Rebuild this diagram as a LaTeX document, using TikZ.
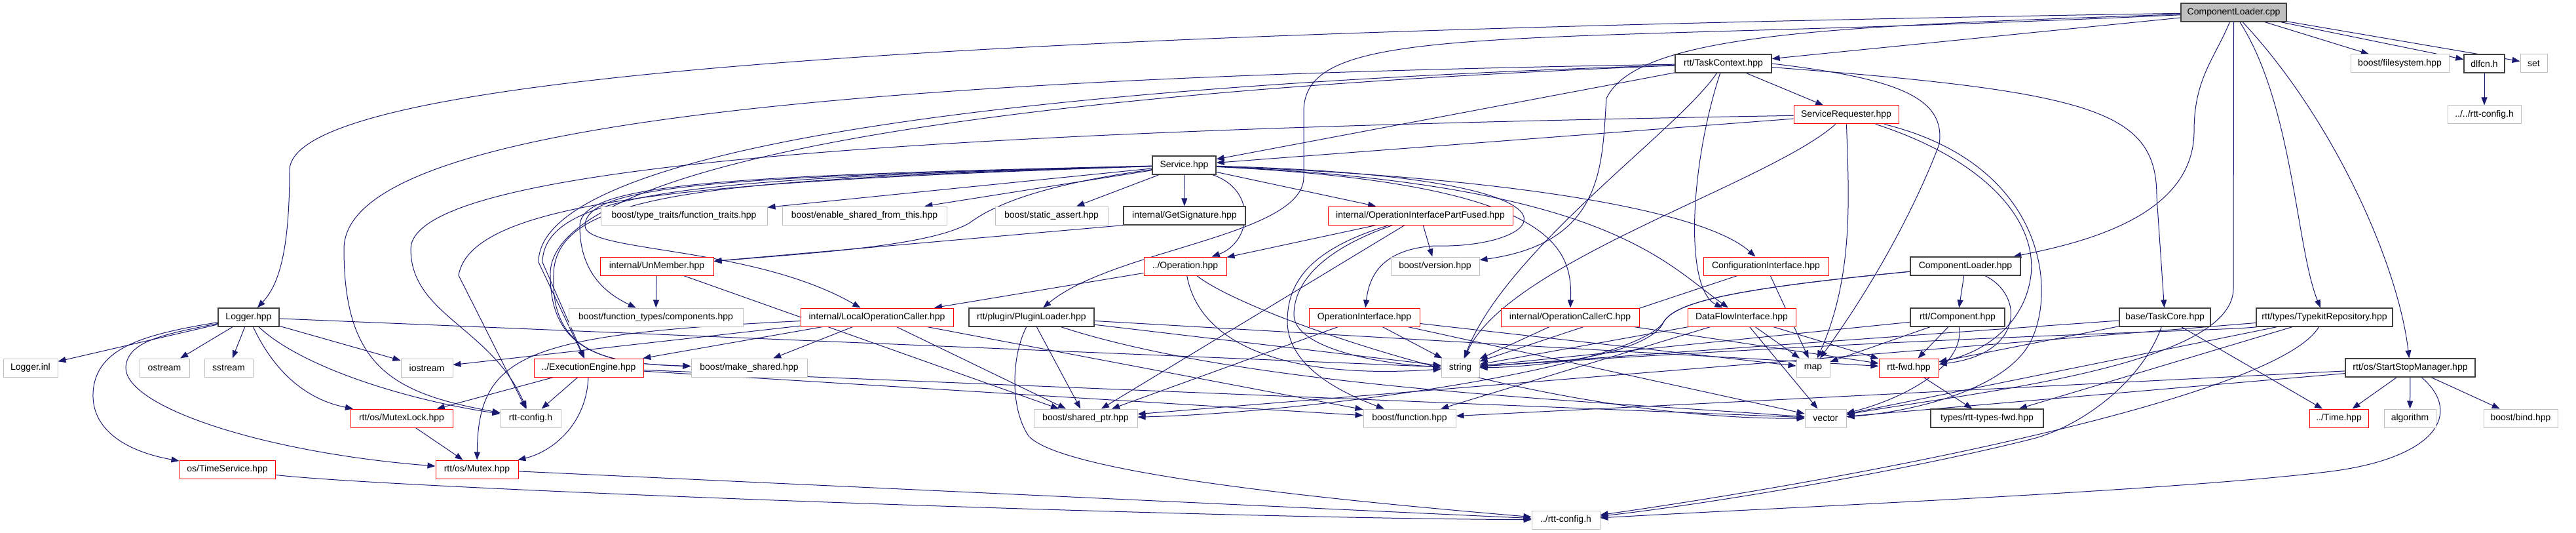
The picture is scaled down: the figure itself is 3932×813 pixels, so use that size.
\documentclass[tikz,border=0pt]{standalone}
\usepackage{fontspec}
\setmainfont{Liberation Sans}
\usetikzlibrary{arrows.meta}

\definecolor{edgeblue}{HTML}{191970}
\definecolor{nodegray}{HTML}{BFBFBF}
\definecolor{nodedark}{HTML}{404040}

\pgfdeclarelayer{edges}
\pgfsetlayers{edges,main}

\tikzset{
	file/.style={draw, line width=1pt, fill=white, minimum height=28pt, inner sep=0pt,
		font=\fontsize{14pt}{16pt}\selectfont},
	doc/.style={file, draw=nodedark, line width=1.3pt},
	ext/.style={file, draw=nodegray},
	trunc/.style={file, draw=red},
	root/.style={file, draw=nodedark, line width=1.3pt, fill=nodegray},
	dep/.style={draw=edgeblue, line width=1pt, -{Triangle[length=12pt,width=9pt]}}
}

\begin{document}
\begin{tikzpicture}[x=1pt,y=-1pt]

		% Define the macro.
		% 1st argument: Box style (doc, ext, trunc or root).
		% 2nd argument: Name of the node.
		% 3rd argument: X of the box centre, in pixels.
		% 4th argument: Y of the box centre, in pixels (downwards).
		% 5th argument: Width of the box.
		% 6th argument: File name written in the box.
		\newcommand{\fileNode}[6]{
			\node[#1, minimum width=#5pt] (#2) at (#3,#4) {#6};
		}

		\useasboundingbox (0,0) rectangle (3932,813);

		% ROOT
		\fileNode{root}{cpp}{3409.5}{19}{161}{ComponentLoader.cpp}

		% ROW 1
		\fileNode{doc}{tc}{2630.5}{97}{147}{rtt/TaskContext.hpp}
		\fileNode{ext}{fs}{3663}{97}{150}{boost/filesystem.hpp}
		\fileNode{doc}{dl}{3792}{97}{62}{dlfcn.h}
		\fileNode{ext}{set}{3867.5}{97}{41}{set}

		% ROW 2
		\fileNode{trunc}{sreq}{2818}{175}{160}{ServiceRequester.hpp}
		\fileNode{ext}{rcfgb}{3792}{175}{112}{../../rtt-config.h}

		% ROW 3
		\fileNode{doc}{svc}{1807.5}{252}{97}{Service.hpp}

		% ROW 4
		\fileNode{ext}{ftr}{1044}{329}{254}{boost/type\_traits/function\_traits.hpp}
		\fileNode{ext}{esft}{1319.5}{329}{251}{boost/enable\_shared\_from\_this.hpp}
		\fileNode{ext}{sa}{1605}{329}{172}{boost/static\_assert.hpp}
		\fileNode{doc}{gsig}{1808}{329}{186}{internal/GetSignature.hpp}
		\fileNode{trunc}{oipf}{2168}{329}{282}{internal/OperationInterfacePartFused.hpp}

		% ROW 5
		\fileNode{trunc}{unm}{1002.5}{406}{173}{internal/UnMember.hpp}
		\fileNode{trunc}{op}{1809}{406}{126}{../Operation.hpp}
		\fileNode{ext}{ver}{2190.5}{406}{135}{boost/version.hpp}
		\fileNode{trunc}{cfgi}{2695.5}{406}{191}{ConfigurationInterface.hpp}
		\fileNode{doc}{clh}{3000}{406}{168}{ComponentLoader.hpp}

		% ROW 6
		\fileNode{doc}{log}{379.5}{484}{93}{Logger.hpp}
		\fileNode{ext}{ftc}{1001}{484}{266}{boost/function\_types/components.hpp}
		\fileNode{trunc}{loc}{1338.5}{484}{233}{internal/LocalOperationCaller.hpp}
		\fileNode{doc}{plug}{1574.5}{484}{191}{rtt/plugin/PluginLoader.hpp}
		\fileNode{trunc}{opi}{2082.5}{484}{169}{OperationInterface.hpp}
		\fileNode{trunc}{opcc}{2396.5}{484}{211}{internal/OperationCallerC.hpp}
		\fileNode{trunc}{dfi}{2658.5}{484}{165}{DataFlowInterface.hpp}
		\fileNode{doc}{comp}{2988}{484}{144}{rtt/Component.hpp}
		\fileNode{doc}{tcore}{3304.5}{484}{139}{base/TaskCore.hpp}
		\fileNode{doc}{tkr}{3548}{484}{208}{rtt/types/TypekitRepository.hpp}

		% ROW 7
		\fileNode{ext}{linl}{46.5}{561}{83}{Logger.inl}
		\fileNode{ext}{ost}{251}{561}{76}{ostream}
		\fileNode{ext}{sst}{349}{561}{74}{sstream}
		\fileNode{ext}{ios}{651.5}{561}{79}{iostream}
		\fileNode{trunc}{ee}{898.5}{561}{167}{../ExecutionEngine.hpp}
		\fileNode{ext}{mks}{1143.5}{561}{177}{boost/make\_shared.hpp}
		\fileNode{ext}{str}{2229}{561}{58}{string}
		\fileNode{ext}{map}{2767.5}{561}{51}{map}
		\fileNode{trunc}{fwd}{2913.5}{561}{91}{rtt-fwd.hpp}
		\fileNode{doc}{ssm}{3679}{561}{198}{rtt/os/StartStopManager.hpp}

		% ROW 8
		\fileNode{trunc}{mlock}{613}{638}{156}{rtt/os/MutexLock.hpp}
		\fileNode{ext}{rcfg}{810}{638}{92}{rtt-config.h}
		\fileNode{ext}{sptr}{1657}{638}{158}{boost/shared\_ptr.hpp}
		\fileNode{ext}{fun}{2151.5}{638}{141}{boost/function.hpp}
		\fileNode{ext}{vec}{2786.5}{638}{63}{vector}
		\fileNode{doc}{tfwd}{3033}{638}{172}{types/rtt-types-fwd.hpp}
		\fileNode{trunc}{time}{3570}{638}{90}{../Time.hpp}
		\fileNode{ext}{alg}{3678.5}{638}{79}{algorithm}
		\fileNode{ext}{bind}{3847.5}{638}{113}{boost/bind.hpp}

		% ROW 9
		\fileNode{trunc}{tsvc}{347}{716}{146}{os/TimeService.hpp}
		\fileNode{trunc}{mtx}{728}{716}{126}{rtt/os/Mutex.hpp}

		% ROW 10
		\fileNode{ext}{rcfga}{2390}{793}{104}{../rtt-config.h}

		\begin{pgfonlayer}{edges}
		% ComponentLoader.cpp
		\foreach \h in {tc,fs,dl,set}{\draw[dep] (cpp) -- (\h);}
		\draw[dep] (cpp) .. controls (1500,50) and (442,110) .. (442,260)
			.. controls (442,400) and (420,440) .. (log);
		\draw[dep] (cpp) .. controls (2300,70) and (1990,30) .. (1990,170) -- (1990,270)
			.. controls (1990,360) and (1700,380) .. (plug);
		\draw[dep] (cpp) .. controls (2800,40) and (2500,50) .. (2452,150)
			.. controls (2445,250) and (2450,370) .. (ver);
		\draw[dep] (cpp) .. controls (3380,90) and (3349,120) .. (3349,200)
			.. controls (3349,330) and (3180,370) .. (clh);
		\draw[dep] (cpp) .. controls (3500,160) and (3505,380) .. (tkr);
		\draw[dep] (cpp) .. controls (3560,180) and (3660,400) .. (ssm);
		\draw[dep] (cpp) -- (3409,440) .. controls (3409,560) and (3000,600) .. (vec);
		\draw[dep] (dl) -- (rcfgb);

		% TaskContext
		\foreach \h in {sreq,svc}{\draw[dep] (tc) -- (\h);}
		\draw[dep] (tc) .. controls (2580,250) and (2570,440) .. (dfi);
		\draw[dep] (tc) .. controls (2560,200) and (2300,380) .. (str);
		\draw[dep] (tc) .. controls (3200,140) and (3292,170) .. (3292,300) -- (tcore);
		\draw[dep] (tc.east) .. controls (2900,120) and (2970,150) .. (2960,220)
			.. controls (2930,300) and (2870,420) .. (map);
		\draw[dep] (tc) .. controls (1200,120) and (525,200) .. (525,380)
			.. controls (525,560) and (600,600) .. (rcfg);
		\draw[dep] (tc) .. controls (1300,140) and (822,260) .. (822,400) -- (ee);
		\draw[dep] (tc) .. controls (1300,150) and (835,280) .. (840,420)
			.. controls (840,540) and (930,555) .. (mks);

		% ServiceRequester
		\draw[dep] (sreq) -- (svc);
		\draw[dep] (sreq) .. controls (1300,200) and (627,260) .. (627,380)
			.. controls (627,480) and (750,500) .. (rcfg);
		\draw[dep] (sreq) .. controls (2700,280) and (2300,400) .. (str);
		\draw[dep] (sreq) .. controls (2822,300) and (2830,420) .. (map);
		\draw[dep] (sreq) .. controls (3020,240) and (3110,330) .. (3100,420)
			.. controls (3090,500) and (3020,540) .. (fwd);
		\draw[dep] (sreq) .. controls (3120,250) and (3140,440) .. (3100,520)
			.. controls (3060,600) and (2900,630) .. (vec);

		% Service
		\foreach \h in {ftr,esft,sa,gsig,oipf}{\draw[dep] (svc) -- (\h);}
		\draw[dep] (svc) .. controls (1920,290) and (1910,370) .. (op);
		\draw[dep] (svc) .. controls (1600,280) and (1520,310) .. (1480,340)
			.. controls (1420,375) and (1250,385) .. (unm);
		\draw[dep] (svc) .. controls (2300,270) and (2600,320) .. (cfgi);
		\draw[dep] (svc) .. controls (2380,280) and (2400,380) .. (opcc);
		\draw[dep] (svc) .. controls (2450,280) and (2540,400) .. (dfi);
		\draw[dep] (svc) .. controls (2480,270) and (2360,380) .. (2190,375)
			.. controls (2110,380) and (2090,420) .. (opi);
		\draw[dep] (svc) .. controls (1100,268) and (885,280) .. (885,345)
			.. controls (885,420) and (930,450) .. (ftc);
		\draw[dep] (svc) .. controls (1100,270) and (892,282) .. (893,345)
			.. controls (895,385) and (1150,375) .. (loc);
		\draw[dep] (svc) .. controls (1100,272) and (830,285) .. (828,400) -- (ee);
		\draw[dep] (svc) .. controls (1100,274) and (845,290) .. (845,420)
			.. controls (840,540) and (930,555) .. (mks);
		\draw[dep] (svc) .. controls (1100,276) and (720,300) .. (700,420) -- (rcfg);

		% internal headers
		\draw[dep] (gsig.south west) -- (unm);
		\foreach \h in {ver,op,sptr}{\draw[dep] (oipf) -- (\h);}
		\draw[dep] (oipf) .. controls (2020,380) and (1975,430) .. (1975,480)
			.. controls (1975,530) and (2100,555) .. (str);
		\draw[dep] (oipf) .. controls (2000,380) and (1965,430) .. (1965,490)
			.. controls (1965,560) and (2050,600) .. (fun);
		\foreach \h in {ftc,sptr}{\draw[dep] (unm) -- (\h);}
		\draw[dep] (op) -- (loc);
		\draw[dep] (op) .. controls (1830,520) and (1950,580) .. (str);
		\draw[dep] (op) .. controls (1900,480) and (2350,640) .. (vec);
		\foreach \h in {ios,ee,mks,sptr,fun}{\draw[dep] (loc) -- (\h);}
		\draw[dep] (loc) .. controls (800,510) and (730,540) .. (mtx);

		% plugin loader and interfaces
		\foreach \h in {str,fwd,sptr}{\draw[dep] (plug) -- (\h);}
		\draw[dep] (plug) .. controls (1900,590) and (2400,610) .. (vec);
		\draw[dep] (plug) .. controls (1545,540) and (1540,620) .. (1570,665)
			.. controls (1620,720) and (2000,760) .. (rcfga);
		\foreach \h in {str,sptr,vec,map}{\draw[dep] (opi) -- (\h);}
		\foreach \h in {str,fwd}{\draw[dep] (opcc) -- (\h);}
		\foreach \h in {str,map,vec,fwd,fun}{\draw[dep] (dfi) -- (\h);}
		\foreach \h in {map,str}{\draw[dep] (cfgi) -- (\h);}

		% ComponentLoader.hpp and the components
		\draw[dep] (clh) -- (comp);
		\draw[dep] (clh) .. controls (2650,440) and (2560,460) .. (2540,490)
			.. controls (2520,540) and (2350,560) .. (str);
		\draw[dep] (clh) .. controls (2650,440) and (2560,460) .. (2540,490)
			.. controls (2500,560) and (2000,630) .. (sptr);
		\draw[dep] (clh) .. controls (3090,450) and (3090,540) .. (fwd);
		\foreach \h in {str,map,fwd}{\draw[dep] (comp) -- (\h);}
		\draw[dep] (comp) .. controls (3000,560) and (2900,610) .. (vec);
		\foreach \h in {str,fwd,time}{\draw[dep] (tcore) -- (\h);}
		\draw[dep] (tcore) .. controls (3270,580) and (3180,650) .. (3100,670)
			.. controls (2900,720) and (2600,770) .. (rcfga);
		\foreach \h in {vec,tfwd,sptr}{\draw[dep] (tkr) -- (\h);}
		\draw[dep] (tkr) .. controls (3400,505) and (3000,510) .. (str);
		\draw[dep] (tkr) .. controls (3480,600) and (2900,720) .. (rcfga);
		\foreach \h in {time,alg,bind,vec,fun}{\draw[dep] (ssm) -- (\h);}
		\draw[dep] (ssm) .. controls (3760,630) and (3720,700) .. (3550,720)
			.. controls (3300,750) and (2700,775) .. (rcfga);
		\draw[dep] (fwd) -- (tfwd);

		% Logger
		\foreach \h in {linl,ost,sst,ios,str}{\draw[dep] (log) -- (\h);}
		\draw[dep] (log) .. controls (420,570) and (470,610) .. (mlock);
		\draw[dep] (log) .. controls (460,560) and (620,610) .. (rcfg);
		\draw[dep] (log) .. controls (250,510) and (195,520) .. (192,560)
			.. controls (190,620) and (400,690) .. (mtx);
		\draw[dep] (log) .. controls (220,510) and (145,530) .. (142,600)
			.. controls (140,660) and (200,690) .. (tsvc);

		% ExecutionEngine and the mutexes
		\foreach \h in {rcfg,mlock,fun,vec}{\draw[dep] (ee) -- (\h);}
		\draw[dep] (ee) .. controls (895,650) and (840,690) .. (mtx);
		\draw[dep] (mlock) -- (mtx);
		\draw[dep] (tsvc) .. controls (600,745) and (1800,790) .. (rcfga);
		\draw[dep] (mtx) -- (rcfga);
		\end{pgfonlayer}

	\end{tikzpicture}
\end{document}
